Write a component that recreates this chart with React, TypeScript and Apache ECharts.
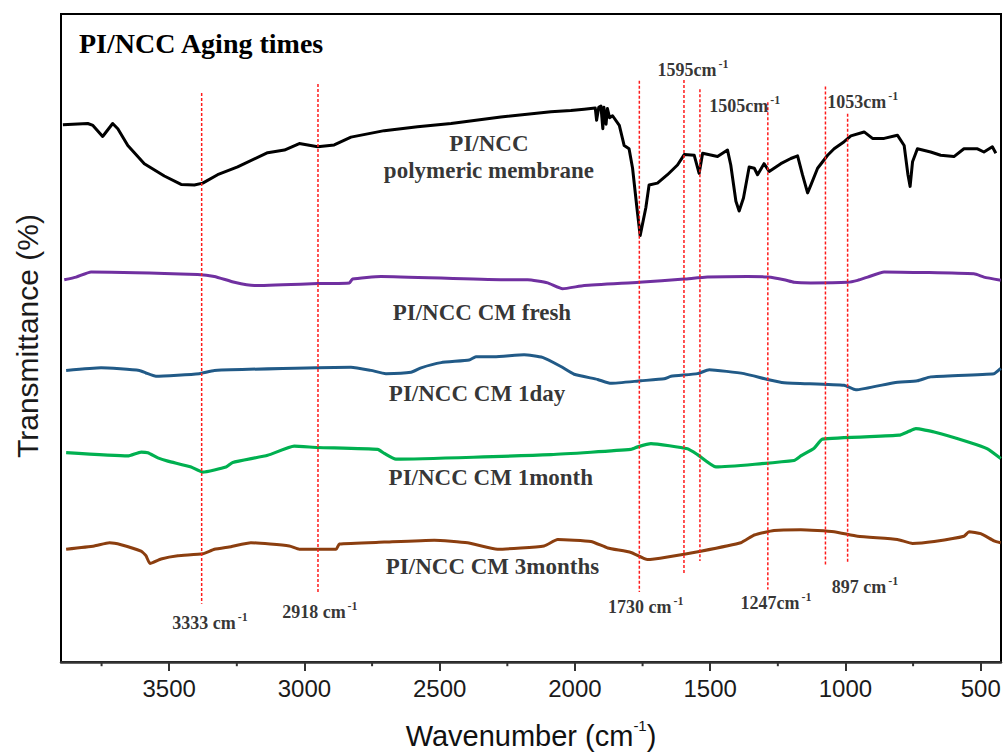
import React, { useEffect, useRef } from 'react';
import * as echarts from 'echarts';

const X_MIN = 425;
const X_MAX = 3900;
const majorTicks = [3500, 3000, 2500, 2000, 1500, 1000, 500];
const minorTicks = [3750, 3250, 2750, 2250, 1750, 1250, 750];

// [wavenumber, transmittance (offset, a.u.)]
const membrane: [number, number][] = [
  [3893, 82.9], [3801, 83.1], [3782, 82.8], [3746, 81.1], [3709, 83.1], [3690, 82.3],
  [3653, 79.7], [3592, 76.9], [3518, 75.0], [3456, 73.7], [3407, 73.6], [3376, 73.9],
  [3321, 75.2], [3247, 76.4], [3136, 78.6], [3074, 79.0], [3019, 80.0], [2951, 79.5],
  [2890, 79.8], [2828, 81.0], [2705, 82.0], [2582, 82.6], [2458, 83.1], [2274, 84.1],
  [2089, 84.9], [2015, 85.1], [1966, 85.3], [1925, 85.5], [1920, 83.6], [1912, 85.6],
  [1904, 85.8], [1897, 82.3], [1893, 85.6], [1885, 83.0], [1880, 85.4], [1872, 84.0],
  [1861, 84.3], [1836, 82.8], [1818, 79.7], [1800, 79.2], [1787, 76.2], [1771, 70.1],
  [1759, 65.8], [1738, 70.1], [1726, 73.6], [1695, 73.9], [1658, 75.2], [1621, 76.7],
  [1596, 78.3], [1559, 78.2], [1541, 75.4], [1528, 78.5], [1473, 78.0], [1436, 79.0],
  [1424, 76.7], [1405, 71.1], [1393, 69.6], [1377, 71.6], [1356, 76.4], [1337, 76.2],
  [1325, 75.2], [1301, 76.9], [1282, 75.7], [1239, 76.9], [1202, 77.7], [1177, 78.1],
  [1159, 75.2], [1140, 72.4], [1128, 73.6], [1103, 76.2], [1066, 78.2], [1042, 79.2],
  [1005, 80.3], [980, 81.2], [931, 81.8], [900, 80.8], [857, 80.8], [808, 81.3],
  [783, 79.7], [769, 75.2], [761, 73.4], [752, 77.2], [734, 79.2], [685, 78.7],
  [648, 78.2], [599, 78.0], [562, 79.2], [512, 79.2], [488, 78.7], [457, 79.5], [444, 78.5]
];

const fresh: [number, number][] = [
  [3888, 59.0], [3844, 59.4], [3789, 60.2], [3395, 59.8], [3333, 59.5], [3259, 58.6],
  [3185, 58.1], [2951, 58.4], [2834, 58.5], [2822, 59.1], [2717, 59.5], [2274, 59.0],
  [2175, 59.0], [2101, 58.5], [2046, 57.6], [1966, 58.1], [1763, 58.6], [1596, 59.1],
  [1510, 59.4], [1362, 59.5], [1288, 59.4], [1227, 59.0], [1190, 58.6], [1128, 58.5],
  [992, 58.6], [955, 58.9], [918, 59.4], [857, 60.2], [525, 59.9], [488, 59.4], [426, 58.9]
];

const oneDay: [number, number][] = [
  [3881, 45.0], [3752, 45.4], [3610, 45.0], [3586, 44.6], [3549, 44.1], [3389, 44.5],
  [3333, 45.0], [2828, 45.5], [2754, 45.0], [2699, 44.5], [2606, 44.7], [2569, 45.4],
  [2495, 46.2], [2391, 46.6], [2366, 47.1], [2298, 47.1], [2188, 47.4], [2120, 47.0],
  [2052, 45.6], [2003, 44.4], [1916, 43.6], [1867, 43.0], [1756, 43.4], [1670, 43.7],
  [1645, 44.1], [1547, 44.5], [1504, 45.1], [1375, 44.5], [1288, 43.6], [1227, 43.1],
  [1005, 42.7], [962, 42.0], [820, 43.1], [734, 43.4], [685, 44.0], [451, 44.5], [426, 45.3]
];

const oneMonth: [number, number][] = [
  [3881, 32.3], [3653, 31.8], [3604, 32.4], [3579, 32.3], [3542, 31.5], [3505, 31.0],
  [3419, 30.1], [3376, 29.3], [3290, 30.1], [3265, 30.8], [3136, 31.9], [3038, 33.3],
  [2951, 33.1], [2729, 32.8], [2705, 32.2], [2662, 31.3], [2089, 32.0], [1793, 32.8],
  [1768, 33.2], [1719, 33.7], [1584, 32.9], [1547, 32.0], [1479, 30.1], [1190, 31.1],
  [1165, 31.8], [1116, 33.0], [1085, 34.4], [802, 35.0], [765, 35.6], [740, 36.0],
  [672, 35.5], [549, 34.0], [475, 32.9], [426, 31.4]
];

const threeMonths: [number, number][] = [
  [3881, 17.4], [3777, 17.9], [3721, 18.4], [3678, 18.1], [3604, 17.1], [3586, 16.4],
  [3571, 15.2], [3530, 15.9], [3468, 16.4], [3376, 16.7], [3333, 17.4], [3272, 17.8],
  [3198, 18.4], [3056, 17.9], [3019, 17.4], [2883, 17.4], [2871, 18.2], [2705, 18.5],
  [2520, 18.8], [2397, 18.4], [2286, 17.4], [2114, 17.9], [2064, 18.9], [1941, 18.6],
  [1879, 17.6], [1793, 16.9], [1732, 15.8], [1658, 16.2], [1535, 17.1], [1387, 18.4],
  [1337, 19.6], [1264, 20.3], [1165, 20.4], [1042, 20.1], [955, 19.4], [808, 18.9],
  [752, 18.3], [672, 18.6], [562, 19.4], [543, 20.1], [500, 19.8], [451, 18.7], [426, 18.4]
];

const peakWN = [3380, 2950, 1762, 1597, 1538, 1287, 1074, 992];
const peakTop = [87.8, 89.2, 89.7, 89.8, 88.4, 86.4, 88.8, 84.6];
const peakBottom = [9.0, 10.5, 10.8, 13.5, 15.6, 11.2, 14.9, 15.2];

const peakLabelText = ['3333 cm', '2918 cm', '1730 cm', '1595cm', '1505cm', '1247cm', '1053cm', '897 cm'];
const peakLabelWN = [3349, 2943, 1738, 1564, 1372, 1257, 936, 928];
const peakLabelT = [6.3, 8.0, 8.7, 91.6, 86.1, 9.3, 86.6, 11.8];

const seriesLabelText = ['PI/NCC', 'polymeric membrane', 'PI/NCC CM fresh', 'PI/NCC CM 1day', 'PI/NCC CM 1month', 'PI/NCC CM 3months'];
const seriesLabelWN = [2318, 2318, 2344, 2362, 2311, 2305];
const seriesLabelT = [80.0, 75.9, 54.0, 41.5, 28.4, 14.7];

const curves = [
  { name: 'PI/NCC polymeric membrane', data: membrane, color: '#000000', width: 3 },
  { name: 'PI/NCC CM fresh', data: fresh, color: '#7030A0', width: 3 },
  { name: 'PI/NCC CM 1day', data: oneDay, color: '#215A87', width: 3 },
  { name: 'PI/NCC CM 1month', data: oneMonth, color: '#00B050', width: 3.2 },
  { name: 'PI/NCC CM 3months', data: threeMonths, color: '#8B3E0F', width: 3 },
];

const SERIF = '"Liberation Serif", "Times New Roman", serif';
const SANS = '"Liberation Sans", Arial, sans-serif';
const MINOR_TICK_DEPTH = 0.65; // y-axis units below the x axis (~4px)

export default function App() {
  const ref = useRef<HTMLDivElement>(null);
  useEffect(() => {
    if (!ref.current) return;
    const chart = echarts.init(ref.current, undefined, { renderer: 'svg' });
    const series: any[] = [];
    curves.forEach((c) => {
      series.push({
        type: 'line', name: c.name, data: c.data, showSymbol: false, symbol: 'none',
        lineStyle: { color: c.color, width: c.width, join: 'round' },
        smooth: c.data === membrane ? false : 0.15, z: 3,
      });
    });
    peakWN.forEach((w, i) => {
      series.push({
        type: 'line', data: [[w, peakTop[i]], [w, peakBottom[i]]], symbol: 'none',
        lineStyle: { color: '#ff1a1a', width: 1.5, type: [3, 2] }, z: 4,
      });
    });
    minorTicks.forEach((v) => {
      series.push({
        type: 'line', clip: false, silent: true, symbol: 'none', z: 6,
        data: [[v, 0], [v, -MINOR_TICK_DEPTH]],
        lineStyle: { color: '#333', width: 2 },
      });
    });
    series.push({
      type: 'scatter', symbolSize: 1, itemStyle: { color: 'transparent' }, z: 5,
      data: peakLabelWN.map((w, i) => ({ value: [w, peakLabelT[i]], name: peakLabelText[i] })),
      label: {
        show: true, position: 'inside', fontSize: 18, fontWeight: 'bold', fontFamily: SERIF, color: '#000',
        formatter: (p: any) => `{m|${p.name}}{s|-1}`,
        rich: {
          m: { fontSize: 18, fontFamily: SERIF, fontWeight: 'bold', color: '#000', lineHeight: 21, verticalAlign: 'bottom' },
          s: { fontSize: 12, fontFamily: SERIF, fontWeight: 'bold', color: '#000', lineHeight: 21, verticalAlign: 'top', padding: [0, 0, 0, 2] },
        },
      },
    });
    series.push({
      type: 'scatter', symbolSize: 1, itemStyle: { color: 'transparent' }, z: 5,
      data: seriesLabelWN.map((w, i) => ({ value: [w, seriesLabelT[i]], name: seriesLabelText[i] })),
      label: {
        show: true, position: 'inside', formatter: (p: any) => p.name,
        fontSize: 23, fontFamily: SERIF, fontWeight: 'bold', color: '#000',
      },
    });

    chart.setOption({
      animation: false,
      title: {
        text: 'PI/NCC Aging times', left: 79, top: 29, padding: 0,
        textStyle: { fontFamily: SERIF, fontWeight: 'bold', fontSize: 28, color: '#000' },
      },
      grid: { left: 61, right: 3, top: 14, bottom: 86, show: true, borderColor: '#000', borderWidth: 2, backgroundColor: 'transparent' },
      xAxis: {
        type: 'value', min: X_MIN, max: X_MAX, inverse: true, position: 'bottom',
        axisLine: { show: true, lineStyle: { color: '#333', width: 2.5 } },
        axisTick: { show: true, customValues: majorTicks, length: 9, lineStyle: { color: '#333', width: 2 } },
        axisLabel: {
          customValues: majorTicks, margin: 14, fontSize: 24, fontFamily: SANS, color: '#1a1a1a',
          formatter: (v: number) => String(v),
        },
        splitLine: { show: false },
        name: '{a|Wavenumber (cm}{b|-1}{a|)}', nameLocation: 'middle', nameGap: 56,
        nameTextStyle: {
          rich: {
            a: { fontSize: 29, fontFamily: SANS, color: '#111', lineHeight: 32, verticalAlign: 'bottom' },
            b: { fontSize: 15, fontFamily: SANS, color: '#111', lineHeight: 32, verticalAlign: 'top' },
          },
        },
      },
      yAxis: {
        type: 'value', min: 0, max: 100,
        axisLine: { show: true, lineStyle: { color: '#000', width: 2 } },
        axisTick: { show: false }, axisLabel: { show: false }, splitLine: { show: false },
      },
      graphic: [
        {
          type: 'text', x: 27, y: 336, rotation: Math.PI / 2,
          style: {
            text: 'Transmittance (%)', font: `30px ${SANS}`, fill: '#1a1a1a',
            textAlign: 'center', textVerticalAlign: 'middle',
          },
        },
      ],
      series,
    });
    return () => chart.dispose();
  }, []);
  return <div ref={ref} style={{ position: 'fixed', left: 0, top: 0, width: 1004, height: 755, background: '#fff' }} />;
}
